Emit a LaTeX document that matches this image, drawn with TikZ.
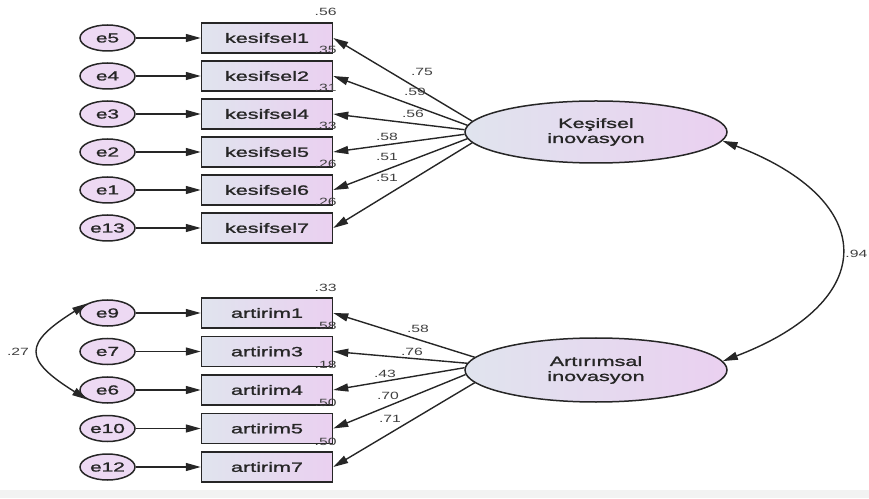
\documentclass[tikz,border=0pt]{standalone}
\usepackage{fontspec}
\newfontfamily\amosfont{Liberation Sans}[FakeStretch=1.6,FakeBold=1.3]
\newfontfamily\coeffont{Liberation Sans}[FakeStretch=1.5]
\usetikzlibrary{arrows.meta,positioning,shapes.geometric}
\definecolor{boxleft}{HTML}{E0E4EE}
\definecolor{boxright}{HTML}{EAD0F0}
\definecolor{errfill}{HTML}{EDD9F3}
\definecolor{inkgray}{HTML}{262626}

\begin{document}
\begin{tikzpicture}[x=1pt,y=1pt,
  errnode/.style={ellipse,draw=inkgray,line width=1.5pt,fill=errfill,minimum width=55pt,minimum height=26pt,inner sep=0pt,font=\amosfont\fontsize{13}{14}\selectfont,text=black!85},
  obsnode/.style={rectangle,draw=inkgray,line width=1.5pt,left color=boxleft,right color=boxright,minimum width=131pt,minimum height=30pt,inner sep=0pt,font=\amosfont\fontsize{13.5}{15}\selectfont,text=black!85},
  latnode/.style={ellipse,draw=inkgray,line width=1.5pt,left color=boxleft,right color=boxright,minimum width=262pt,minimum height=62pt,inner sep=0pt,align=center,font=\amosfont\fontsize{13.5}{15}\selectfont,text=black!85},
  coef/.style={inner sep=0.5pt,font=\coeffont\fontsize{10.5}{12}\selectfont,text=black!75},
  arr/.style={-{Triangle[length=15pt,width=8pt]},line width=1.4pt,draw=inkgray},
  covarr/.style={{Triangle[length=15pt,width=8pt]}-{Triangle[length=15pt,width=8pt]},line width=1.4pt,draw=inkgray}]
\useasboundingbox (0,0) rectangle (869,498);
\fill[black!5] (0,0) rectangle (869,8);
% latent factors
\node[latnode] (ks) at (596,366) {Keşifsel\\inovasyon};
\node[latnode,minimum height=64pt] (ar) at (596,128) {Artırımsal\\inovasyon};
% kesifsel items
\foreach \n/\e/\y/\r/\a in {1/5/460/.56/175,2/4/422/.35/177,4/3/384/.31/179,5/2/346/.33/181,6/1/308/.26/183,7/13/270/.26/185} {
  \node[obsnode] (k\n) at (267,\y) {kesifsel\n};
  \node[errnode,left=65pt of k\n] (e\e) {e\e};
  \node[coef,anchor=south east] (rk\n) at ([xshift=4pt,yshift=6pt]k\n.north east) {\r};
  \draw[arr] (e\e) -- (k\n);
  \draw[arr] (ks.\a) -- (k\n.east);
}
% artirim items
\foreach \n/\e/\y/\r/\a in {1/9/185/.33/174.5,3/7/146.5/.58/177,4/6/108/.18/179.5,5/10/69.5/.50/182,7/12/31/.50/186} {
  \node[obsnode] (a\n) at (267,\y) {artirim\n};
  \node[errnode,left=65pt of a\n] (e\e) {e\e};
  \node[coef,anchor=south east] (ra\n) at ([xshift=4pt,yshift=5pt]a\n.north east) {\r};
  \draw[arr] (e\e) -- (a\n);
  \draw[arr] (ar.\a) -- (a\n.east);
}
% loadings
\foreach \n/\x/\y/\v in {1/422/426/.75,2/415/406/.59,4/413/384/.56,5/387/361/.58,6/387/341/.51,7/387/320/.51}
  \node[coef] (lk\n) at (\x,\y) {\v};
\foreach \n/\x/\y/\v in {1/418/169/.58,3/412/146/.76,4/385/124/.43,5/388/102/.70,7/390/79/.71}
  \node[coef] (la\n) at (\x,\y) {\v};
% covariances
\draw[covarr] (ks.-4) .. controls +(157,-60) and +(157,60) .. (ar.4);
\node[coef,anchor=east] (c94) at (868,244) {.94};
\draw[covarr] (e9.155) .. controls +(-64,-40) and +(-64,40) .. (e6.205);
\node[coef] (c27) at (18,146) {.27};
\end{tikzpicture}
\end{document}
